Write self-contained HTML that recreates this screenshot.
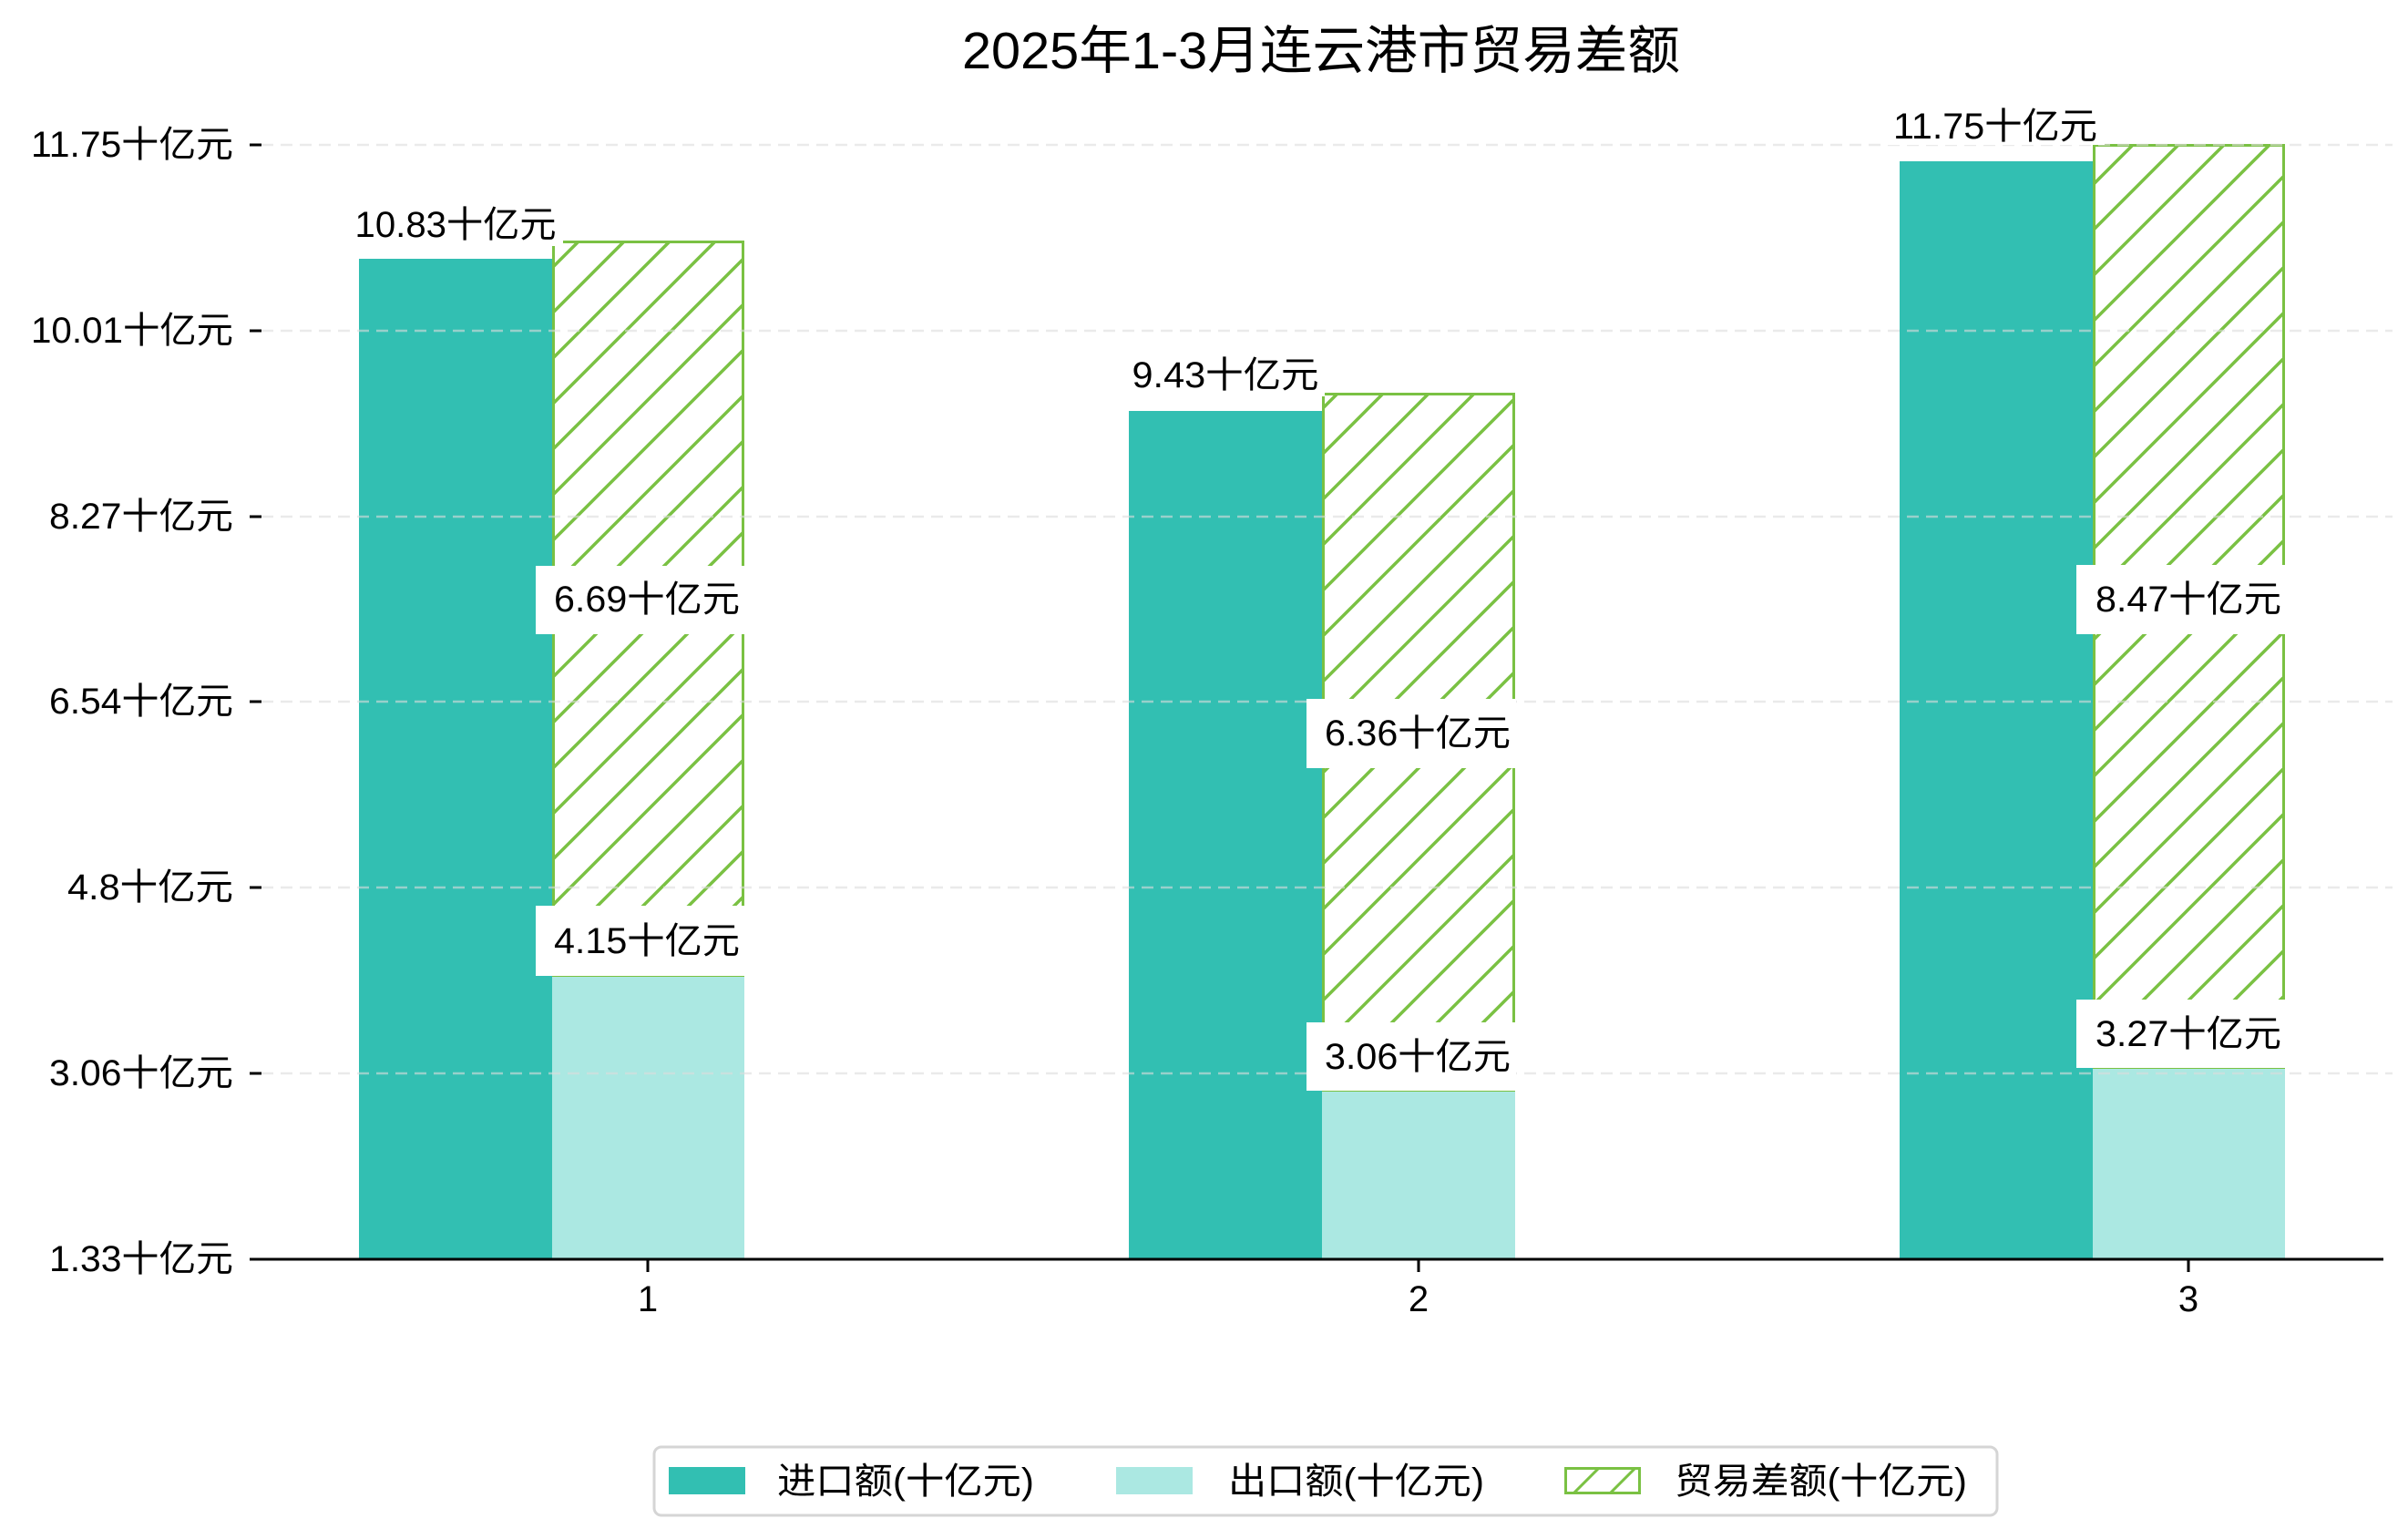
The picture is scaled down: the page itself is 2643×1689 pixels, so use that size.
<!DOCTYPE html>
<html><head><meta charset="utf-8"><style>
html,body{margin:0;padding:0;background:#fff;}
svg{display:block;}
text{font-family:"Liberation Sans","Noto Sans CJK SC",sans-serif;fill:#000;}
</style></head><body>
<svg width="2643" height="1689" viewBox="0 0 2643 1689" xmlns="http://www.w3.org/2000/svg">
<defs>
<pattern id="h" patternUnits="userSpaceOnUse" width="50" height="50">
<line x1="-5" y1="55" x2="55" y2="-5" stroke="#7ac143" stroke-width="3.5"/>
<line x1="-30" y1="30" x2="30" y2="-30" stroke="#7ac143" stroke-width="3.5"/>
<line x1="20" y1="80" x2="80" y2="20" stroke="#7ac143" stroke-width="3.5"/>
</pattern>
<pattern id="hl" patternUnits="userSpaceOnUse" width="40" height="40" x="1717" y="1609">
<line x1="-5" y1="45" x2="45" y2="-5" stroke="#7ac143" stroke-width="3"/>
</pattern>
</defs>

<text x="1450" y="56" font-size="57" text-anchor="middle" dominant-baseline="central" textLength="788" lengthAdjust="spacingAndGlyphs">2025年1-3月连云港市贸易差额</text>

<!-- bars -->
<g>
<rect x="394" y="284" width="212" height="1098" fill="#32bfb2"/>
<rect x="606" y="1071" width="211" height="311" fill="#abe8e2"/>
<rect x="607.5" y="265.5" width="208" height="805" fill="url(#h)" stroke="#7ac143" stroke-width="3"/>

<rect x="1239" y="451" width="212" height="931" fill="#32bfb2"/>
<rect x="1451" y="1197" width="212" height="185" fill="#abe8e2"/>
<rect x="1452.5" y="432.5" width="209" height="764" fill="url(#h)" stroke="#7ac143" stroke-width="3"/>

<rect x="2085" y="177" width="212" height="1205" fill="#32bfb2"/>
<rect x="2297" y="1172" width="211" height="210" fill="#abe8e2"/>
<rect x="2298.5" y="159.5" width="208" height="1012" fill="url(#h)" stroke="#7ac143" stroke-width="3"/>
</g>

<!-- grid -->
<g stroke="#dcdcdc" stroke-opacity="0.6" stroke-width="2.5" stroke-dasharray="13,8">
<line x1="287" y1="159" x2="2626" y2="159"/>
<line x1="287" y1="363" x2="2626" y2="363"/>
<line x1="287" y1="567" x2="2626" y2="567"/>
<line x1="287" y1="770" x2="2626" y2="770"/>
<line x1="287" y1="974" x2="2626" y2="974"/>
<line x1="287" y1="1178" x2="2626" y2="1178"/>
</g>

<!-- label boxes -->
<g fill="#fff">
<rect x="588" y="621" width="230" height="75"/>
<rect x="588" y="994" width="230" height="77"/>
<rect x="1434" y="767" width="230" height="76"/>
<rect x="1434" y="1122" width="230" height="75"/>
<rect x="2279" y="620" width="230" height="76"/>
<rect x="2279" y="1097" width="230" height="75"/>
<rect x="382" y="222" width="236" height="48"/>
<rect x="1232" y="387" width="222" height="48"/>
<rect x="2070" y="115" width="240" height="44"/>
</g>

<g font-size="40" dominant-baseline="central" text-anchor="middle" lengthAdjust="spacingAndGlyphs">
<text x="500" y="247" textLength="221" lengthAdjust="spacingAndGlyphs">10.83十亿元</text>
<text x="1345" y="412" textLength="205" lengthAdjust="spacingAndGlyphs">9.43十亿元</text>
<text x="2190" y="139" textLength="224" lengthAdjust="spacingAndGlyphs">11.75十亿元</text>
<text x="710" y="658" textLength="204" lengthAdjust="spacingAndGlyphs">6.69十亿元</text>
<text x="710" y="1033" textLength="204" lengthAdjust="spacingAndGlyphs">4.15十亿元</text>
<text x="1556" y="805" textLength="204" lengthAdjust="spacingAndGlyphs">6.36十亿元</text>
<text x="1556" y="1160" textLength="204" lengthAdjust="spacingAndGlyphs">3.06十亿元</text>
<text x="2402" y="658" textLength="204" lengthAdjust="spacingAndGlyphs">8.47十亿元</text>
<text x="2402" y="1135" textLength="204" lengthAdjust="spacingAndGlyphs">3.27十亿元</text>
</g>

<!-- y axis ticks -->
<g stroke="#000" stroke-width="3">
<line x1="274" y1="159" x2="287" y2="159"/>
<line x1="274" y1="363" x2="287" y2="363"/>
<line x1="274" y1="567" x2="287" y2="567"/>
<line x1="274" y1="770" x2="287" y2="770"/>
<line x1="274" y1="974" x2="287" y2="974"/>
<line x1="274" y1="1178" x2="287" y2="1178"/>
<line x1="274" y1="1382" x2="2616" y2="1382"/>
<line x1="711" y1="1382" x2="711" y2="1396"/>
<line x1="1557" y1="1382" x2="1557" y2="1396"/>
<line x1="2402" y1="1382" x2="2402" y2="1396"/>
</g>
<g font-size="40" dominant-baseline="central" text-anchor="end">
<text x="256" y="159" textLength="222" lengthAdjust="spacingAndGlyphs">11.75十亿元</text>
<text x="256" y="363" textLength="222" lengthAdjust="spacingAndGlyphs">10.01十亿元</text>
<text x="256" y="567" textLength="202" lengthAdjust="spacingAndGlyphs">8.27十亿元</text>
<text x="256" y="770" textLength="202" lengthAdjust="spacingAndGlyphs">6.54十亿元</text>
<text x="256" y="974" textLength="182" lengthAdjust="spacingAndGlyphs">4.8十亿元</text>
<text x="256" y="1178" textLength="202" lengthAdjust="spacingAndGlyphs">3.06十亿元</text>
<text x="256" y="1382" textLength="202" lengthAdjust="spacingAndGlyphs">1.33十亿元</text>
</g>
<g font-size="40" dominant-baseline="central" text-anchor="middle">
<text x="711" y="1426">1</text>
<text x="1557" y="1426">2</text>
<text x="2402" y="1426">3</text>
</g>

<!-- legend -->
<rect x="718" y="1588" width="1474" height="75" rx="8" fill="#fff" stroke="#d5d5d5" stroke-width="3"/>
<rect x="734" y="1610" width="84" height="30" fill="#32bfb2"/>
<rect x="1225" y="1610" width="84" height="30" fill="#abe8e2"/>
<rect x="1718.5" y="1611.5" width="81" height="27" fill="url(#hl)" stroke="#7ac143" stroke-width="3"/>
<g font-size="40" dominant-baseline="central">
<text x="853" y="1626" textLength="282" lengthAdjust="spacingAndGlyphs">进口额(十亿元)</text>
<text x="1348" y="1626" textLength="281" lengthAdjust="spacingAndGlyphs">出口额(十亿元)</text>
<text x="1838" y="1626" textLength="321" lengthAdjust="spacingAndGlyphs">贸易差额(十亿元)</text>
</g>
</svg>
</body></html>
